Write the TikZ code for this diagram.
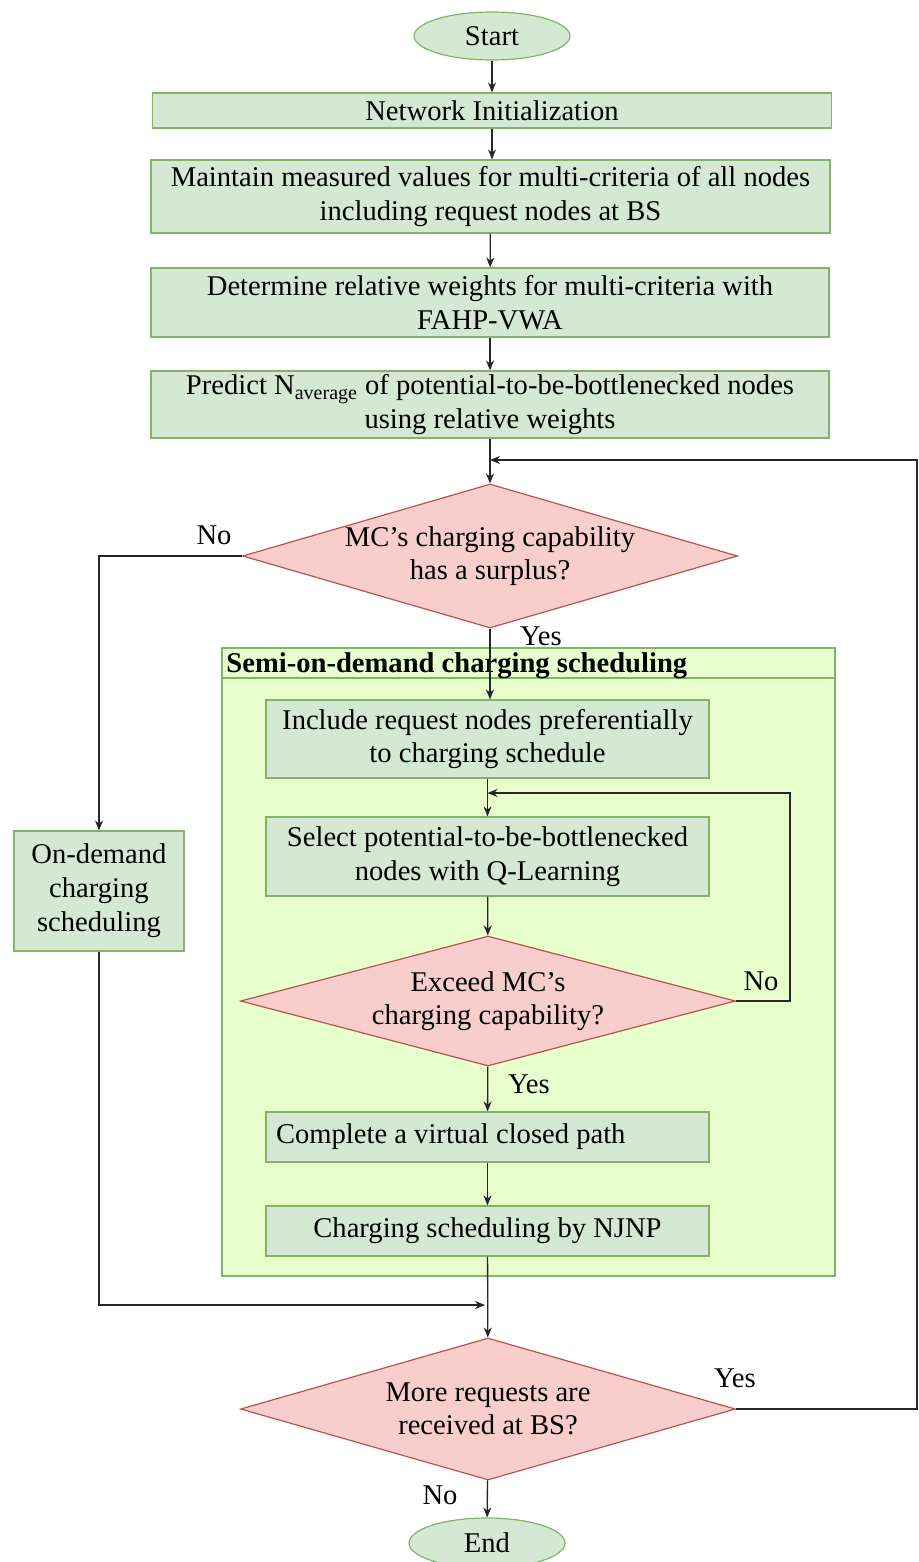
\documentclass[tikz,border=0pt]{standalone}
\usepackage{fontspec}
\setmainfont{Liberation Serif}
\usepackage{xcolor}
\usetikzlibrary{shapes.geometric,arrows.meta}

\definecolor{procfill}{HTML}{D5E8D4}
\definecolor{procline}{HTML}{82B366}
\definecolor{decfill}{HTML}{F8CECC}
\definecolor{decline}{HTML}{B85450}
\definecolor{groupfill}{HTML}{E6FFCC}

\begin{document}
\begin{tikzpicture}[x=0.5pt, y=-0.5pt,
	font=\fontsize{14.3}{16.7}\selectfont,
	proc/.style={draw=procline, fill=procfill, line width=0.6pt, inner sep=0pt, align=center},
	decide/.style={diamond, draw=decline, fill=decfill, line width=0.6pt, inner sep=0pt, align=center, minimum width=247.5pt},
	term/.style={ellipse, draw=procline, fill=procfill, line width=0.6pt, inner sep=0pt, minimum width=78pt, minimum height=24pt},
	flow/.style={->, >={Stealth[length=5pt, width=4pt]}, draw=black!85, line width=0.65pt}]
	\useasboundingbox (0,0) rectangle (918,1562);

	% container for the semi-on-demand part
	\node[draw=procline, fill=groupfill, line width=1pt, minimum width=306.5pt, minimum height=314pt] (semi) at (528.5,962) {};
	\draw[procline, line width=1pt] (222,678) -- (835,678);
	\node[anchor=west, font=\fontsize{14.3}{16.7}\selectfont\bfseries, inner sep=0pt] (semititle) at (226,666) {Semi-on-demand charging scheduling};

	\node[term] (start) at (492,36) {Start};
	\node[proc, minimum width=339.5pt, minimum height=17.5pt] (init) at (492,110.5) {Network Initialization};
	\node[proc, minimum width=339.5pt, minimum height=36.5pt] (maint) at (490.5,196.5) {Maintain measured values for multi-criteria of all nodes\\including request nodes at BS};
	\node[proc, minimum width=339pt, minimum height=34.5pt] (weights) at (490,302.5) {Determine relative weights for multi-criteria with\\FAHP-VWA};
	\node[proc, minimum width=339pt, minimum height=33.5pt] (pred) at (490,404.5) {Predict N\textsubscript{average} of potential-to-be-bottlenecked nodes\\using relative weights};

	\node[decide, shape aspect=3.44, minimum height=72pt] (surplus) at (490,556) {MC's charging capability\\has a surplus?};

	\node[proc, minimum width=85pt, minimum height=60pt, font=\fontsize{14.3}{17}\selectfont] (ondem) at (99,891) {On-demand\\charging\\scheduling};

	\node[proc, minimum width=221.5pt, minimum height=39pt] (incl) at (487.5,739) {Include request nodes preferentially\\to charging schedule};
	\node[proc, minimum width=221.5pt, minimum height=39.5pt] (sel) at (487.5,856.5) {Select potential-to-be-bottlenecked\\nodes with Q-Learning};
	\node[decide, shape aspect=3.8, minimum height=65pt] (exceed) at (488,1001) {Exceed MC's\\charging capability?};
	\node[proc, minimum width=221.5pt, minimum height=25pt, text width=211.5pt, align=flush left] (path) at (487.5,1137) {Complete a virtual closed path};
	\node[proc, minimum width=221.5pt, minimum height=25pt] (njnp) at (487.5,1231) {Charging scheduling by NJNP};

	\node[decide, shape aspect=3.44, minimum height=71pt] (more) at (488,1409) {More requests are\\received at BS?};
	\node[term, minimum height=25pt] (end) at (487,1543) {End};

	% labels
	\node (nosurplus) at (214,535) {No};
	\node (yessurplus) at (541,636) {Yes};
	\node (noexceed) at (761,981) {No};
	\node (yesexceed) at (529,1084) {Yes};
	\node (yesmore) at (735,1378) {Yes};
	\node (nomore) at (440,1495) {No};

	\coordinate (rloop) at (917,460);
	\coordinate (qloop) at (790,793);
	\coordinate (lmerge) at (485,1305);

	\draw[flow] (start) -- (init);
	\draw[flow] (init.south) -- (init.south |- maint.north);
	\draw[flow] (maint) -- (weights);
	\draw[flow] (weights) -- (pred);
	\draw[flow] (pred) -- (surplus);
	\draw[flow] (more.east) -- (more.east -| rloop) -- (rloop) -- (pred.south |- rloop);
	\draw[flow] (surplus.west) -| (ondem.north);
	\draw[flow] (surplus.south) -- (surplus.south |- incl.north);
	\draw[flow] (incl) -- (sel);
	\draw[flow] (sel) -- (exceed);
	\draw[flow] (exceed.east) -| (qloop) -- (sel.north |- qloop);
	\draw[flow] (exceed) -- (path);
	\draw[flow] (path) -- (njnp);
	\draw[flow] (njnp) -- (more);
	\draw[flow] (ondem.south) |- (lmerge);
	\draw[flow] (more) -- (end);
\end{tikzpicture}
\end{document}
